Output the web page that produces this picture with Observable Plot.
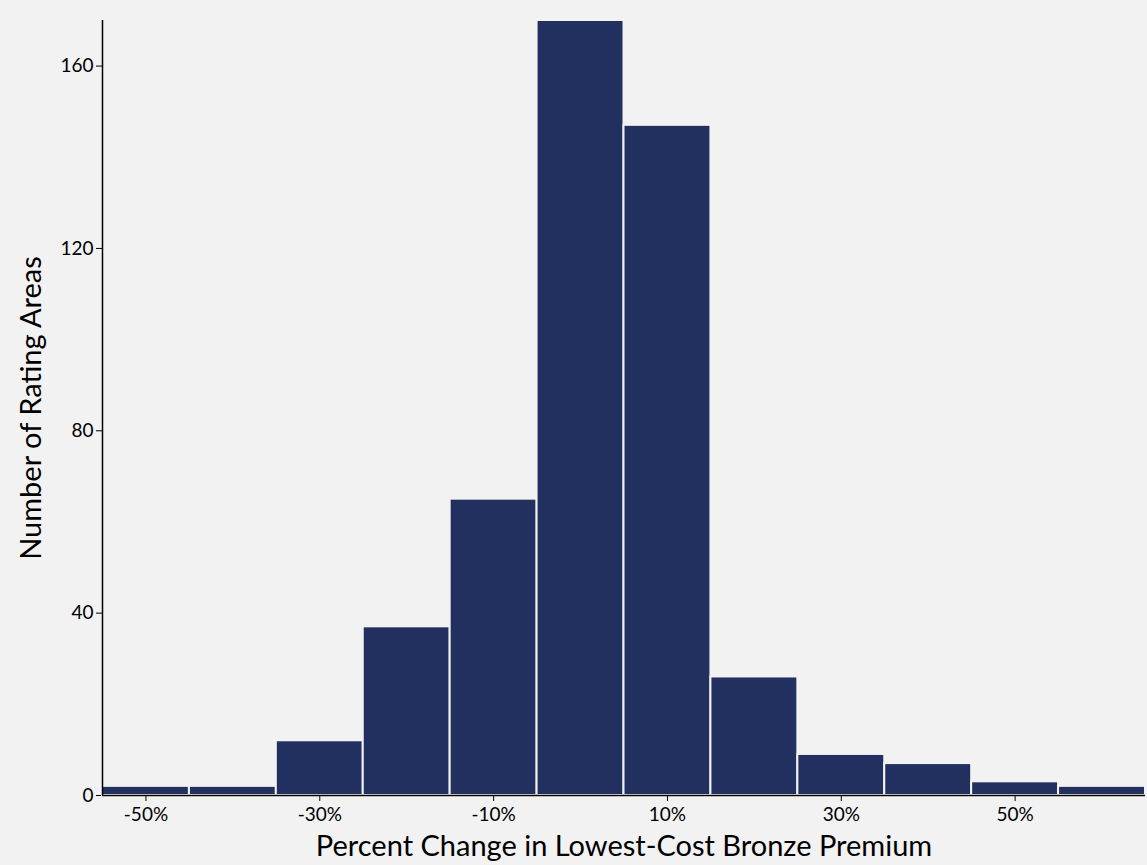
<!DOCTYPE html>
<html>
<head>
<meta charset="utf-8">
<script src="https://cdn.jsdelivr.net/npm/d3@7"></script>
<script src="https://cdn.jsdelivr.net/npm/@observablehq/plot@0.6"></script>
<style>
  body { margin: 0; background: #fff; }
  #chart { width: 1147px; height: 865px; background: #f2f2f2; }
  #chart svg text { font-size: 19px !important; }
  #chart svg text.axislabel { font-size: 29px !important; }
</style>
</head>
<body>
<div id="chart"></div>
<script>
const binStart = [-55, -45, -35, -25, -15, -5, 5, 15, 25, 35, 45, 55];
const counts   = [2, 2, 12, 37, 65, 170, 147, 26, 9, 7, 3, 2];
const xTicks = [-50, -30, -10, 10, 30, 50];
const yTicks = [0, 40, 80, 120, 160];

const bins = binStart.map((x, i) => ({ x1: x, x2: x + 10, count: counts[i] }));

const chart = Plot.plot({
  width: 1147,
  height: 865,
  marginLeft: 102,
  marginRight: 2,
  marginTop: 20,
  marginBottom: 70,
  style: { background: "#f2f2f2", fontFamily: "Lato, sans-serif", color: "#000" },
  x: { domain: [-55, 65], ticks: xTicks, tickFormat: d => d + "%", tickPadding: 6, label: "Percent Change in Lowest-Cost Bronze Premium", labelArrow: "none", labelAnchor: "center", labelOffset: 60 },
  y: { domain: [0, 170], ticks: yTicks, label: "Number of Rating Areas", labelArrow: "none", labelAnchor: "center", labelOffset: 82 },
  marks: [
    Plot.rectY(bins, { x1: "x1", x2: "x2", y: "count", fill: "#22305f", stroke: "#f2f2f2", strokeWidth: 2 }),
    Plot.ruleX([-55], { stroke: "#000", strokeWidth: 1.5 }),
    Plot.ruleY([0], { stroke: "#000", strokeWidth: 1.5 })
  ]
});

d3.select(chart).selectAll("text")
  .filter(function () { return /Percent Change|Number of Rating/.test(this.textContent); })
  .classed("axislabel", true);
d3.select('#chart').append(() => chart);
</script>
</body>
</html>
